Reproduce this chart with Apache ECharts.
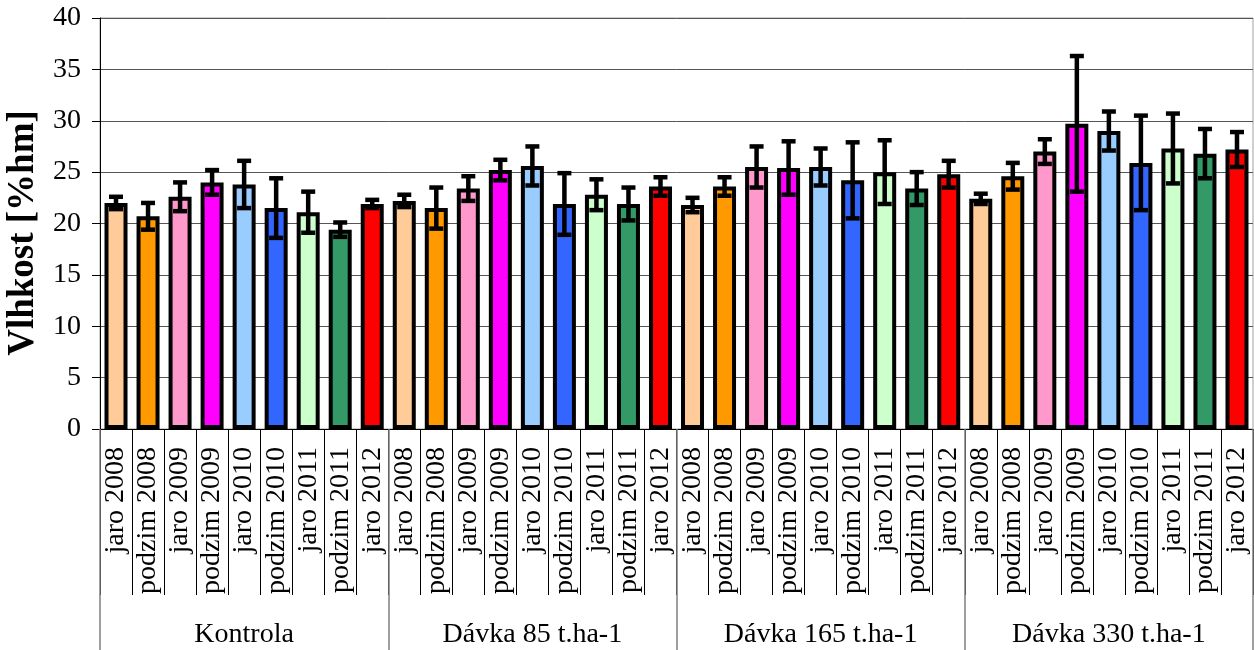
<!DOCTYPE html>
<html>
<head>
<meta charset="utf-8">
<script src="https://cdn.jsdelivr.net/npm/echarts@6/dist/echarts.min.js"></script>
<style>html,body{margin:0;padding:0;background:#fff}#c{width:1254px;height:650px}</style>
</head>
<body>
<div id="c"></div>
<script>
const subcategories = ['jaro 2008','podzim 2008','jaro 2009','podzim 2009','jaro 2010','podzim 2010','jaro 2011','podzim 2011','jaro 2012'];
const groups = ['Kontrola','Dávka 85 t.ha-1','Dávka 165 t.ha-1','Dávka 330 t.ha-1'];
const kontrola    = [22.0,20.7,22.6,24.0,23.8,21.5,21.1,19.4,21.9];
const kontrolaErr = [0.6,1.3,1.4,1.2,2.3,2.9,2.0,0.7,0.4];
const davka85     = [22.2,21.5,23.4,25.2,25.6,21.9,22.8,21.9,23.6];
const davka85Err  = [0.6,2.0,1.2,1.0,1.9,3.0,1.5,1.6,0.9];
const davka165    = [21.8,23.6,25.5,25.4,25.5,24.2,25.0,23.4,24.8];
const davka165Err = [0.7,0.9,2.0,2.6,1.8,3.7,3.1,1.6,1.3];
const davka330    = [22.4,24.6,27.0,29.7,29.0,25.9,27.3,26.8,27.2];
const davka330Err = [0.5,1.3,1.2,6.6,1.9,4.6,3.4,2.4,1.7];
const colors = ['#FFCC99','#FF9900','#FF99CC','#FF00FF','#99CCFF','#3366FF','#CCFFCC','#339966','#FF0000'];
const yTicks = {min:0, max:40, interval:5};

const groupValues = [kontrola, davka85, davka165, davka330];
const groupErrs = [kontrolaErr, davka85Err, davka165Err, davka330Err];
const cats = [], barData = [], errData = [];
groupValues.forEach((vals, g) => {
  vals.forEach((v, i) => {
    const idx = cats.length;
    cats.push(subcategories[i]);
    barData.push({value: v, itemStyle: {color: colors[i]}});
    const e = groupErrs[g][i];
    errData.push([idx, v - e, v + e]);
  });
});

const FONT = "'Liberation Serif','Times New Roman',serif";
const chart = echarts.init(document.getElementById('c'), null, {renderer:'canvas'});
chart.setOption({
  animation: false,
  backgroundColor: '#fff',
  grid: {left: 100, right: 1, top: 18, bottom: 221, show: true, borderColor: '#a0a0a0', borderWidth: 1, backgroundColor: 'transparent'},
  graphic: [{
    type: 'text', x: 23, y: 233, rotation: Math.PI/2,
    style: {text: 'Vlhkost [%hm]', font: "bold 37px " + FONT, fill: '#000', align: 'center', verticalAlign: 'middle'}
  }],
  xAxis: [{
    type: 'category', data: cats, position: 'bottom',
    axisLine: {show: true, lineStyle: {color: '#000', width: 1}},
    axisTick: {show: true, interval: 0, length: 166, lineStyle: {color: '#000', width: 1}},
    axisLabel: {interval: 0, rotate: 90, fontSize: 28, fontFamily: FONT, color: '#000', margin: 18},
    splitLine: {show: false}
  }, {
    type: 'category', data: groups, position: 'bottom', gridIndex: 0,
    axisLine: {show: false},
    axisTick: {show: true, interval: 0, length: 221, lineStyle: {color: '#808080', width: 1.5}},
    axisLabel: {interval: 0, fontSize: 28, fontFamily: FONT, color: '#000', margin: 192},
    splitLine: {show: false}
  }],
  yAxis: {
    type: 'value', min: yTicks.min, max: yTicks.max, interval: yTicks.interval,
    axisLine: {show: true, lineStyle: {color: '#000', width: 1}},
    axisTick: {show: true, length: 8, lineStyle: {color: '#000'}},
    axisLabel: {fontSize: 28, fontFamily: FONT, color: '#000', margin: 19},
    splitLine: {show: true, lineStyle: {color: '#555', width: 1}}
  },
  series: [{
    type: 'bar', xAxisIndex: 0, data: barData, barWidth: 23,
    itemStyle: {borderColor: '#000', borderWidth: 4}
  }, {
    type: 'custom', xAxisIndex: 0, data: errData, z: 5,
    renderItem: function (params, api) {
      const x = api.value(0);
      const lo = api.coord([x, api.value(1)]);
      const hi = api.coord([x, api.value(2)]);
      const hw = 7;
      const st = {stroke: '#000', lineWidth: 4.5};
      return {type: 'group', children: [
        {type: 'line', shape: {x1: lo[0], y1: lo[1], x2: hi[0], y2: hi[1]}, style: st},
        {type: 'line', shape: {x1: hi[0]-hw, y1: hi[1], x2: hi[0]+hw, y2: hi[1]}, style: st},
        {type: 'line', shape: {x1: lo[0]-hw, y1: lo[1], x2: lo[0]+hw, y2: lo[1]}, style: st}
      ]};
    }
  }]
});
</script>
</body>
</html>
